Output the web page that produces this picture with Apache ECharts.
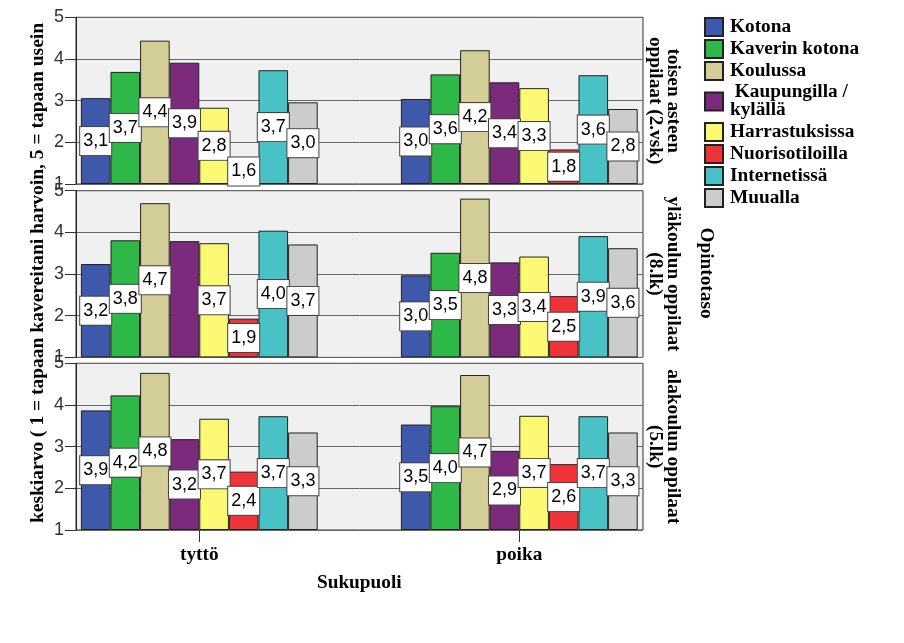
<!DOCTYPE html>
<html>
<head>
<meta charset="utf-8">
<script src="https://cdn.jsdelivr.net/npm/echarts@6/dist/echarts.min.js"></script>
<style>html,body{margin:0;padding:0;background:#fff}#c{width:904px;height:643px}</style>
</head>
<body>
<div id="c"></div>
<script>
const categories = ['tyttö', 'poika'];
const seriesNames = ['Kotona', 'Kaverin kotona', 'Koulussa', 'Kaupungilla / kylällä', 'Harrastuksissa', 'Nuorisotiloilla', 'Internetissä', 'Muualla'];
const seriesColors = ['#3e58ac', '#2eb848', '#d3ce97', '#7c2a7c', '#fbf873', '#ef3338', '#48c2c5', '#cccccc'];
const panelLabels = ['toisen asteen\noppilaat (2.vsk)', 'yläkoulun oppilaat\n(8.lk)', 'alakoulun oppilaat\n(5.lk)'];
const yTicks = [1, 2, 3, 4, 5];

// values per panel: [tyttö, poika] for each series
const toisenAste = [[3.06, 3.04], [3.69, 3.63], [4.44, 4.21], [3.91, 3.44], [2.83, 3.30], [1.60, 1.83], [3.73, 3.61], [2.96, 2.80]];
const ylakoulu   = [[3.24, 2.97], [3.81, 3.51], [4.70, 4.81], [3.79, 3.28], [3.74, 3.42], [1.93, 2.47], [4.04, 3.91], [3.71, 3.62]];
const alakoulu   = [[3.87, 3.53], [4.23, 3.97], [4.77, 4.72], [3.18, 2.90], [3.67, 3.74], [2.40, 2.58], [3.73, 3.73], [3.34, 3.34]];
const panels = [toisenAste, ylakoulu, alakoulu];
// label not shown in the reference: [panel, series, category]
const hiddenLabels = [[1, 3, 0]];

const panelTops = [17.3, 190.7, 363.3];
const panelH = 166.7;
const bgLeft = 76, bgWidth = 567;
const barLeft = 39.3, barWidthGrid = 640;
const serif = 'Liberation Serif, Times New Roman';
const serifSize = 19.3;

const grid = [], xAxis = [], yAxis = [], series = [];
panels.forEach((vals, p) => {
  const bgIdx = grid.length;
  grid.push({left: bgLeft, top: panelTops[p], width: bgWidth, height: panelH, show: true,
    backgroundColor: '#f0f0f0', borderColor: '#333', borderWidth: 1});
  const barIdx = grid.length;
  grid.push({left: barLeft, top: panelTops[p], width: barWidthGrid, height: panelH, show: false});
  xAxis.push({gridIndex: bgIdx, type: 'value', show: false, min: 0, max: 1});
  yAxis.push({gridIndex: bgIdx, type: 'value', min: yTicks[0], max: yTicks[yTicks.length - 1], interval: 1,
    axisLine: {show: true, lineStyle: {color: '#222', width: 1}},
    axisTick: {show: true, length: 11, lineStyle: {color: '#333'}},
    axisLabel: {margin: 12, color: '#333', fontFamily: 'Liberation Sans, Arial', fontSize: 18},
    splitLine: {show: true, lineStyle: {color: '#666', width: 1}}});
  const isBottom = p === panels.length - 1;
  xAxis.push({gridIndex: barIdx, type: 'category', data: categories,
    axisLine: {show: false},
    axisTick: {show: isBottom, alignWithLabel: true, length: 12, lineStyle: {color: '#333'}},
    axisLabel: {show: isBottom, margin: 16, color: '#000', fontFamily: serif, fontWeight: 'bold', fontSize: serifSize},
    name: isBottom ? 'Sukupuoli' : '', nameLocation: 'middle', nameGap: 44,
    nameTextStyle: {color: '#000', fontFamily: serif, fontWeight: 'bold', fontSize: serifSize}});
  yAxis.push({gridIndex: barIdx, type: 'value', min: 1, max: 5, startValue: 1, show: false});
  const axisIdx = yAxis.length - 1;
  vals.forEach((pair, s) => {
    series.push({
      type: 'bar', name: seriesNames[s], xAxisIndex: axisIdx, yAxisIndex: axisIdx,
      barWidth: 29.6, barGap: '0%',
      itemStyle: {color: seriesColors[s], borderColor: '#222', borderWidth: 1},
      data: pair.map((v, c) => {
        const hide = hiddenLabels.some(h => h[0] === p && h[1] === s && h[2] === c);
        return hide ? {value: v, label: {show: false}} : v;
      }),
      label: {show: true, position: 'inside', formatter: d => d.value.toFixed(1).replace('.', ','),
        color: '#000', fontFamily: 'Liberation Sans, Arial', fontSize: 18, lineHeight: 20,
        backgroundColor: '#fff', borderColor: '#444', borderWidth: 1, padding: [4, 3, 4, 3]},
      emphasis: {disabled: true}
    });
  });
});

const graphic = [
  {type: 'text', x: 38, y: 273, rotation: Math.PI / 2,
    style: {text: 'keskiarvo ( 1 = tapaan kavereitani harvoin, 5 = tapaan usein', fill: '#000',
      font: 'bold 19.5px ' + serif, align: 'center', verticalAlign: 'middle'}},
  {type: 'text', x: 706, y: 273, rotation: -Math.PI / 2,
    style: {text: 'Opintotaso', fill: '#000', font: 'bold ' + serifSize + 'px ' + serif, align: 'center', verticalAlign: 'middle'}}
];
panelLabels.forEach((t, p) => {
  graphic.push({type: 'text', x: 664, y: panelTops[p] + panelH / 2, rotation: -Math.PI / 2,
    style: {text: t, fill: '#000', font: 'bold ' + serifSize + 'px ' + serif, lineHeight: 18, align: 'center', verticalAlign: 'middle'}});
});

const chart = echarts.init(document.getElementById('c'));
chart.setOption({
  animation: false,
  grid, xAxis, yAxis, series, graphic,
  legend: {orient: 'vertical', left: 704, top: 17, padding: 0, itemWidth: 18, itemHeight: 18, itemGap: 2,
    selectedMode: false, icon: 'rect', data: seriesNames,
    formatter: n => n === 'Kaupungilla / kylällä' ? ' Kaupungilla /\nkylällä' : n,
    textStyle: {color: '#000', fontFamily: serif, fontWeight: 'bold', fontSize: serifSize, lineHeight: 18, padding: [0, 0, 0, 2]}}
});
</script>
</body>
</html>
